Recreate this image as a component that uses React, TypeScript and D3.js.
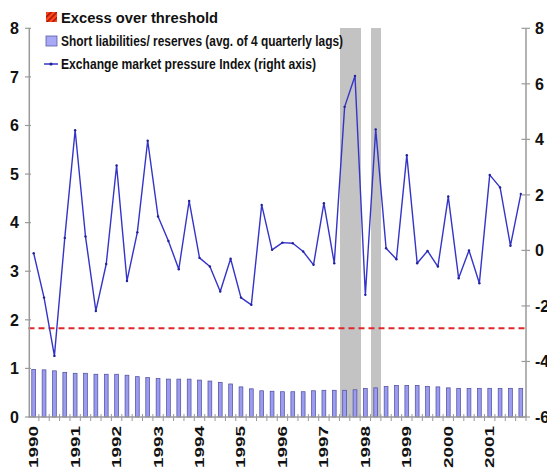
import React from "react";
import * as d3 from "d3";

const years = ["1990","1991","1992","1993","1994","1995","1996","1997","1998","1999","2000","2001"];
const quarters = years.flatMap((y) => ["Q1","Q2","Q3","Q4"].map((q) => `${y}${q}`));

const shortLiabReserves = [
  0.98, 0.97, 0.95, 0.92, 0.90, 0.90, 0.88, 0.88, 0.88, 0.86, 0.83, 0.81,
  0.79, 0.78, 0.78, 0.78, 0.76, 0.74, 0.71, 0.68, 0.62, 0.58, 0.54, 0.53,
  0.52, 0.52, 0.52, 0.54, 0.55, 0.55, 0.55, 0.56, 0.59, 0.60, 0.63, 0.65,
  0.65, 0.65, 0.63, 0.62, 0.60, 0.59, 0.59, 0.59, 0.59, 0.59, 0.59, 0.59,
];

const empIndex = [
  -0.1, -1.7, -3.8, 0.45, 4.33, 0.5, -2.18, -0.49, 3.06, -1.1, 0.65, 3.95,
  1.22, 0.34, -0.68, 1.78, -0.27, -0.58, -1.48, -0.3, -1.7, -1.96, 1.64, 0.02,
  0.28, 0.26, -0.04, -0.52, 1.7, -0.46, 5.17, 6.28, -1.6, 4.36, 0.08, -0.32,
  3.43, -0.46, -0.02, -0.58, 1.94, -1.0, 0.0, -1.18, 2.72, 2.27, 0.17, 2.03,
];

const excessPeriods = ["1997Q3", "1997Q4", "1998Q2"];
const thresholdRight = -2.8;

const leftTicks = [0, 1, 2, 3, 4, 5, 6, 7, 8];
const rightTicks = [-6, -4, -2, 0, 2, 4, 6, 8];

const legendItems = [
  "Excess over threshold",
  "Short liabilities/ reserves (avg. of 4 quarterly lags)",
  "Exchange market pressure Index (right axis)",
];

const W = 547;
const H = 473;
const FONT = "'Liberation Sans Narrow', 'Arial Narrow', 'Liberation Sans', Arial, sans-serif";

export default function App() {
  const x = d3.scaleBand<string>().domain(quarters).range([28.5, 526]).paddingInner(0).paddingOuter(0);
  const yL = d3.scaleLinear().domain([0, 8]).range([417, 28.3]);
  const yR = d3.scaleLinear().domain([-6, 8]).range([417, 28.3]);
  const bw = x.bandwidth();
  const cx = (q: string) => (x(q) as number) + bw / 2;
  const barW = 3.8;

  const line = d3
    .line<number>()
    .x((_, i) => cx(quarters[i]))
    .y((d) => yR(d));

  const axisColor = "#9a9a9a";

  return (
    <svg
      width={W}
      height={H}
      style={{ position: "absolute", left: 0, top: 0, background: "#fff" }}
      xmlns="http://www.w3.org/2000/svg"
    >
      <defs>
        <pattern id="hatch" width="4" height="4" patternUnits="userSpaceOnUse" patternTransform="rotate(45)">
          <rect width="4" height="4" fill="#ff4a1c" />
          <rect x="0" y="0" width="1.5" height="4" fill="#a01008" />
        </pattern>
      </defs>
      <rect width={W} height={H} fill="#fff" />

      {/* gray excess bands */}
      {excessPeriods.map((q) => (
        <rect
          key={q}
          x={(x(q) as number) + 0.5}
          y={yL(8)}
          width={bw + 0.1}
          height={yL(0) - yL(8)}
          fill="#c3c3c3"
          shapeRendering="crispEdges"
        />
      ))}

      {/* bars */}
      {shortLiabReserves.map((v, i) => (
        <rect
          key={i}
          x={cx(quarters[i]) - barW / 2}
          y={yL(v)}
          width={barW}
          height={yL(0) - yL(v)}
          fill="#9b9bf0"
          stroke="#4a4a9c"
          strokeWidth={0.7}
        />
      ))}

      {/* threshold dashed line */}
      <line
        x1={28.5}
        x2={526}
        y1={yR(thresholdRight)}
        y2={yR(thresholdRight)}
        stroke="#e0282c"
        strokeWidth={2}
        strokeDasharray="6,4"
      />

      {/* EMP index line */}
      <path d={line(empIndex) || ""} fill="none" stroke="#3434c8" strokeWidth={1.4} strokeLinejoin="round" />
      {empIndex.map((v, i) => (
        <circle key={i} cx={cx(quarters[i])} cy={yR(v)} r={1.2} fill="#22229a" />
      ))}

      {/* left axis */}
      <line x1={29.3} x2={29.3} y1={yL(8)} y2={yL(0)} stroke={axisColor} strokeWidth={1.5} />
      {leftTicks.map((t) => (
        <g key={t}>
          <line x1={25} x2={31} y1={yL(t)} y2={yL(t)} stroke={axisColor} strokeWidth={1.2} />
          <text
            x={19}
            y={yL(t)}
            dy="0.36em"
            textAnchor="end"
            fontFamily={FONT}
            fontWeight="bold"
            fontSize={16}
            fill="#111"
          >
            {t}
          </text>
        </g>
      ))}

      {/* right axis */}
      <line x1={526} x2={526} y1={yR(8)} y2={yR(-6)} stroke={axisColor} strokeWidth={1.5} />
      {rightTicks.map((t) => (
        <g key={t}>
          <line x1={521.5} x2={530} y1={yR(t)} y2={yR(t)} stroke={axisColor} strokeWidth={1.2} />
          <text
            x={535}
            y={yR(t)}
            dy="0.36em"
            textAnchor="start"
            fontFamily={FONT}
            fontWeight="bold"
            fontSize={16}
            fill="#111"
          >
            {t}
          </text>
        </g>
      ))}

      {/* bottom axis */}
      <line x1={28.5} x2={526} y1={yL(0)} y2={yL(0)} stroke={axisColor} strokeWidth={1.5} />
      {quarters.map((q) => (
        <line
          key={q}
          x1={(x(q) as number) + bw}
          x2={(x(q) as number) + bw}
          y1={yL(0) - 3}
          y2={yL(0) + 4}
          stroke={axisColor}
          strokeWidth={1}
        />
      ))}
      {quarters
        .filter((q) => q.endsWith("Q1"))
        .map((q) => (
          <text
            key={q}
            transform={`translate(${cx(q) + 4.5},${468}) rotate(-90)`}
            textAnchor="start"
            fontFamily={FONT}
            fontWeight="bold"
            fontSize={13}
            textLength={42}
            lengthAdjust="spacingAndGlyphs"
            fill="#111"
          >
            {q.slice(0, 4)}
          </text>
        ))}

      {/* legend */}
      <rect x={46} y={12} width={11} height={10} fill="url(#hatch)" />
      <rect x={46} y={36} width={11} height={10} fill="#a8a8f5" stroke="#5a5aa8" strokeWidth={0.8} />
      <line x1={44} x2={58} y1={64} y2={64} stroke="#3434c8" strokeWidth={1.5} />
      <circle cx={51} cy={64} r={1.6} fill="#22229a" />
      {legendItems.map((t, i) => (
        <text
          key={t}
          x={61}
          y={[17.5, 41, 64][i]}
          dy="0.36em"
          fontFamily={FONT}
          fontWeight="bold"
          fontSize={14.5}
          textLength={[157, 282, 255][i]}
          lengthAdjust="spacingAndGlyphs"
          fill="#111"
        >
          {t}
        </text>
      ))}
    </svg>
  );
}
